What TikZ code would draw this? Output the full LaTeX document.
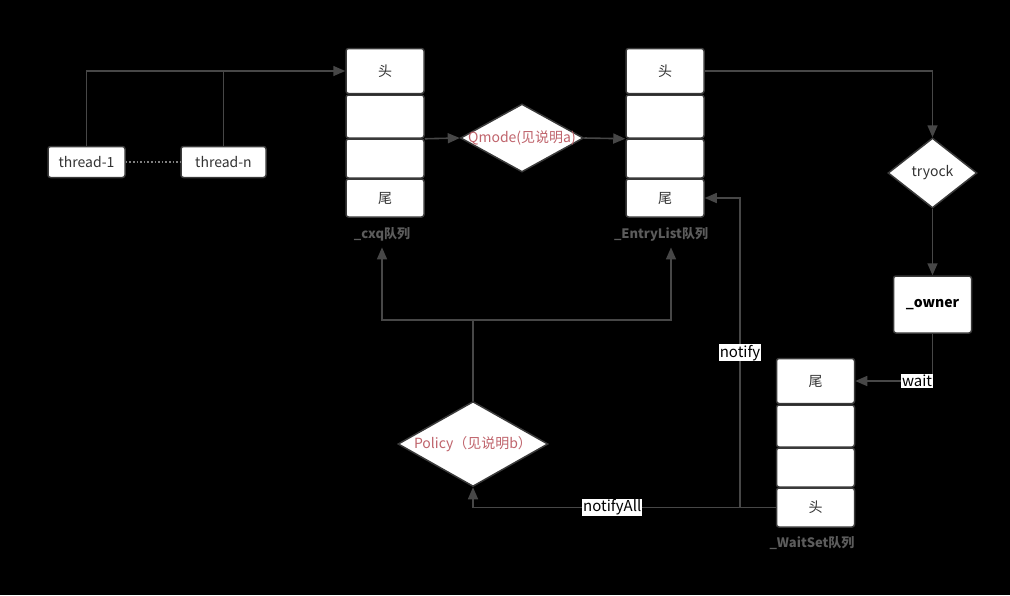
\documentclass[tikz,border=0pt]{standalone}
\usepackage{fontspec}
\setmainfont{Noto Sans CJK SC}
\usetikzlibrary{arrows.meta, shapes.geometric, calc}
\definecolor{linegray}{HTML}{474747}
\definecolor{boxgray}{HTML}{3A3A3A}
\definecolor{labelgray}{HTML}{5C5C5C}
\definecolor{decisiontext}{HTML}{C0646C}
\definecolor{textgray}{HTML}{333333}
\tikzset{every node/.style={align=center}}
\tikzset{line/.style={line width=1.6pt, draw=linegray}}
\tikzset{arrow/.style={line, -{Triangle[length=12pt,width=10pt]}}}
\tikzset{cell/.style={draw=boxgray, line width=1.5pt, fill=white, rounded corners=2.5pt, minimum width=78pt, inner sep=0pt, text=textgray, font=\fontsize{14}{16}\selectfont}}
\tikzset{thread/.style={cell, minimum height=31pt}}
\tikzset{decision/.style={diamond, draw=boxgray, line width=1.5pt, fill=white, inner sep=0pt}}
\tikzset{dtext/.style={text=decisiontext, font=\fontsize{14}{16}\selectfont}}
\tikzset{qlabel/.style={text=labelgray, font=\fontsize{13}{15}\selectfont\bfseries}}
\tikzset{call/.style={fill=white, text=black, inner sep=0.8pt, font=\fontsize{15}{17}\selectfont}}

\begin{document}
\begin{tikzpicture}[x=1pt, y=-1pt]

		% Background
		\fill[black] (0,0) rectangle (1010,595);

		% Threads
		\node[thread, minimum width=77pt] (t1) at (86.5,162) {thread-1};
		\node[thread, minimum width=85pt] (tn) at (223.5,162) {thread-n};

		% Queues
		%% _cxq
		\node[cell, minimum height=45pt] (cxq1) at (385,71) {头};
		\node[cell, minimum height=43pt] (cxq2) at (385,116.5) {};
		\node[cell, minimum height=39pt] (cxq3) at (385,158.5) {};
		\node[cell, minimum height=38pt] (cxq4) at (385,198) {尾};
		\node[qlabel] (cxqlabel) at (382,234) {\_cxq队列};
		%% _EntryList
		\node[cell, minimum height=45pt] (entry1) at (665,71) {头};
		\node[cell, minimum height=43pt] (entry2) at (665,116.5) {};
		\node[cell, minimum height=39pt] (entry3) at (665,158.5) {};
		\node[cell, minimum height=38pt] (entry4) at (665,198) {尾};
		\node[qlabel] (entrylabel) at (661,234) {\_EntryList队列};
		%% _WaitSet
		\node[cell, minimum height=45pt] (wait1) at (815.5,381) {尾};
		\node[cell, minimum height=42pt] (wait2) at (815.5,426) {};
		\node[cell, minimum height=39pt] (wait3) at (815.5,467.5) {};
		\node[cell, minimum height=39pt] (wait4) at (815.5,507.5) {头};
		\node[qlabel] (waitlabel) at (812,543) {\_WaitSet队列};

		% Decisions
		\node[decision, minimum width=123pt, minimum height=68pt, label={[dtext]center:Qmode(见说明a)}] (qmode) at (522,138) {};
		\node[decision, minimum width=89pt, minimum height=70pt, label={[cell, draw=none, fill=none]center:tryock}] (tryock) at (932.5,173) {};
		\node[decision, minimum width=150pt, minimum height=85pt, label={[dtext]center:Policy（见说明b）}] (policy) at (473,444) {};

		% Owner
		\node[cell, minimum height=57pt, font=\fontsize{14}{16}\selectfont\bfseries, text=black] (owner) at (932.5,304.5) {\_owner};

		% Connectors
		\draw[arrow] (t1.north) |- (cxq1.west);
		\draw[line] (tn.north) -- (tn.north |- cxq1.west);
		\draw[line, dotted, draw=gray] (t1.east) -- (tn.west);
		\draw[arrow] (cxq2.south east) -- (qmode.west);
		\draw[arrow] (qmode.east) -- (entry2.south west);
		\draw[arrow] (entry1.east) -| (tryock.north);
		\draw[arrow] (tryock.south) -- (owner.north);
		\draw[arrow] (owner.south) |- node[call, pos=0.6] {wait} (wait1.east);
		\draw[arrow] (wait4.west) -| node[call, pos=0.27] {notifyAll} (policy.south);
		\coordinate (nsplit) at (740,507.5);
		\draw[arrow] (nsplit) |- node[call, pos=0.25] {notify} (entry4.east);
		\draw[line] (policy.north) -- (policy.north |- 0,320) coordinate (pjoin);
		\draw[arrow] (pjoin) -| ([xshift=0pt, yshift=-3pt]cxqlabel.south);
		\draw[arrow] (pjoin) -| ([xshift=10pt, yshift=-3pt]entrylabel.south);

\end{tikzpicture}
\end{document}
